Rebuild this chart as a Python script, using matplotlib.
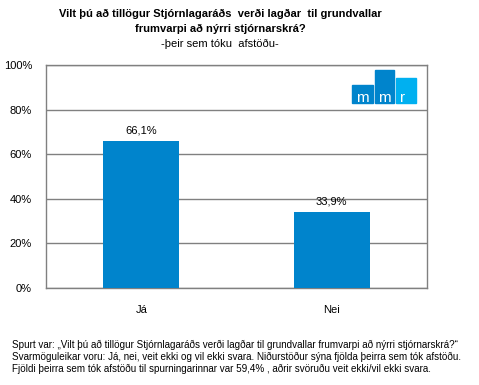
import matplotlib
matplotlib.use("Agg")
import matplotlib.pyplot as plt
from matplotlib.patches import Rectangle

categories = ["Já", "Nei"]
values = [66.1, 33.9]
value_labels = ["66,1%", "33,9%"]
yticks = [0, 20, 40, 60, 80, 100]
ytick_labels = ["0%", "20%", "40%", "60%", "80%", "100%"]

title1 = "Vilt þú að tillögur Stjórnlagaráðs  verði lagðar  til grundvallar"
title2 = "frumvarpi að nýrri stjórnarskrá?"
subtitle = "-þeir sem tóku  afstöðu-"
footnote = ("Spurt var: „Vilt þú að tillögur Stjórnlagaráðs verði lagðar til grundvallar frumvarpi að nýrri stjórnarskrá?“\n"
            "Svarmöguleikar voru: Já, nei, veit ekki og vil ekki svara. Niðurstöður sýna fjölda þeirra sem tók afstöðu.\n"
            "Fjöldi þeirra sem tók afstöðu til spurningarinnar var 59,4% , aðrir svöruðu veit ekki/vil ekki svara.")

plt.rcParams['font.family'] = ['Liberation Sans', 'DejaVu Sans']

W, H = 479, 385
fig = plt.figure(figsize=(W/100, H/100), dpi=100)
ax = fig.add_axes([46/W, 1-288/H, (427-46)/W, (288-65)/H])

bar_color = "#0084CC"
x = list(range(len(categories)))
ax.bar(x, values, width=0.4, color=bar_color, zorder=3)
ax.set_xlim(-0.5, 1.5)
ax.set_ylim(0, 100)
ax.set_yticks(yticks)
ax.set_yticklabels(ytick_labels, fontsize=8)
ax.set_xticks(x)
ax.set_xticklabels(categories, fontsize=8)
ax.tick_params(axis='x', length=0, pad=12)
ax.tick_params(axis='y', length=0, pad=10)
ax.grid(axis='y', color='#808080', linewidth=1, zorder=1)
for s in ax.spines.values():
    s.set_color('#808080')
    s.set_linewidth(1)
for xi, v, lab in zip(x, values, value_labels):
    ax.text(xi, v + 2.5, lab, ha='center', va='bottom', fontsize=8, zorder=4)

fig.text(220/W, 1-14/H, title1, ha='center', va='center', fontsize=8, fontweight='bold')
fig.text(220/W, 1-29/H, title2, ha='center', va='center', fontsize=8, fontweight='bold')
fig.text(220/W, 1-44/H, subtitle, ha='center', va='center', fontsize=8)
fig.text(12/W, 1-357/H, footnote, ha='left', va='center', fontsize=7.1, linespacing=1.2)

# logo
def frect(x0, y0, x1, y1, c):
    fig.patches.append(Rectangle((x0/W, 1-y1/H), (x1-x0)/W, (y1-y0)/H,
                                 transform=fig.transFigure, color=c, zorder=5))
frect(352, 85, 373, 103, "#0084CC")
frect(375, 70, 394, 103, "#0084CC")
frect(396, 78, 416, 103, "#00B0F0")
fig.text(362.5/W, 1-98/H, "m", ha='center', va='center', fontsize=11, color='white', zorder=6)
fig.text(384.5/W, 1-98/H, "m", ha='center', va='center', fontsize=11, color='white', zorder=6)
fig.text(403/W, 1-98/H, "r", ha='center', va='center', fontsize=11, color='white', zorder=6)

fig.savefig("out.png", dpi=100)
